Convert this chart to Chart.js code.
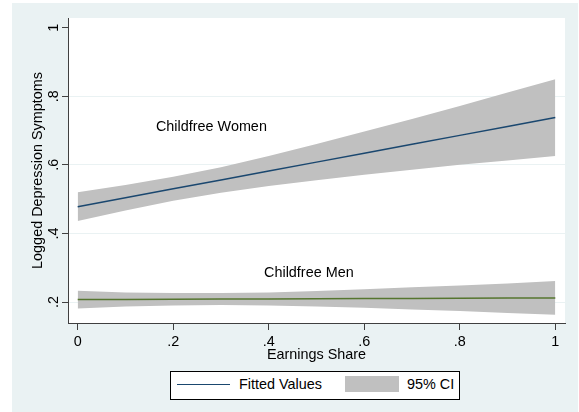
<!DOCTYPE html>
<html>
<head>
<meta charset="utf-8">
<script src="https://cdn.jsdelivr.net/npm/chart.js@4"></script>
<style>
  body { margin: 0; background: #fff; }
  #wrap { position: relative; width: 579px; height: 412px; font-family: "Liberation Sans", Arial, sans-serif; }
  #legend {
    position: absolute; left: 170px; top: 371px; width: 290px; height: 29px;
    box-sizing: border-box; border: 1px solid #000; background: #fff;
    font-size: 14.4px; line-height: 16px; color: #000;
  }
  #legend .line { position: absolute; left: 6px; top: 11.5px; width: 53px; height: 1.5px; background: #1a476f; }
  #legend .box { position: absolute; left: 174px; top: 4px; width: 54px; height: 16px; background: #c0c0c0; }
  #legend .txt { position: absolute; top: 4.3px; white-space: nowrap; }
</style>
</head>
<body>
<div id="wrap">
  <canvas id="myChart" width="579" height="412"></canvas>
  <div id="legend">
    <span class="line"></span><span class="txt" style="left:68px">Fitted Values</span>
    <span class="box"></span><span class="txt" style="left:236px">95% CI</span>
  </div>
</div>
<script>
// earnings share grid and fitted values with 95% bands
const shareX = [0, 0.1, 0.2, 0.3, 0.4, 0.5, 0.6, 0.7, 0.8, 0.9, 1];
const womenFit = [0.478, 0.504, 0.530, 0.556, 0.582, 0.608, 0.634, 0.660, 0.686, 0.712, 0.738];
const womenHi = [0.520, 0.541, 0.565, 0.593, 0.626, 0.661, 0.697, 0.734, 0.772, 0.811, 0.850];
const womenLo = [0.436, 0.467, 0.495, 0.519, 0.538, 0.555, 0.571, 0.586, 0.600, 0.613, 0.626];
const menFit = [0.207, 0.2075, 0.208, 0.2085, 0.209, 0.2095, 0.210, 0.2105, 0.211, 0.2115, 0.212];
const menHi = [0.233, 0.228, 0.226, 0.226, 0.228, 0.232, 0.237, 0.243, 0.248, 0.254, 0.261];
const menLo = [0.181, 0.187, 0.190, 0.191, 0.190, 0.187, 0.183, 0.178, 0.174, 0.168, 0.163];

const xTicks = [0, 0.2, 0.4, 0.6, 0.8, 1];
const xTickLabels = ['0', '.2', '.4', '.6', '.8', '1'];
const yTicks = [0.2, 0.4, 0.6, 0.8, 1];
const yTickLabels = ['.2', '.4', '.6', '.8', '1'];

const groupLabels = ['Childfree Women', 'Childfree Men'];
const groupLabelX = [0.28, 0.484];
const groupLabelY = [0.715, 0.289];

const FONT = '"Liberation Sans", Arial, sans-serif';
Chart.defaults.font.family = FONT;

const pts = ys => shareX.map((x, i) => ({ x: x, y: ys[i] }));

const bgPlugin = {
  id: 'bg',
  beforeDraw(chart) {
    const { ctx, chartArea: a } = chart;
    ctx.save();
    ctx.fillStyle = '#eaf2f3';
    ctx.fillRect(12, 3, 566, 409);
    ctx.fillStyle = '#fff';
    ctx.fillRect(a.left, a.top, a.right - a.left, a.bottom - a.top);
    ctx.restore();
  }
};

// rotated y labels, y title and the group captions
const textPlugin = {
  id: 'texts',
  afterDraw(chart) {
    const { ctx, chartArea: a } = chart;
    const ys = chart.scales.y, xs = chart.scales.x;
    ctx.save();
    ctx.fillStyle = '#000';
    ctx.font = '14.4px ' + FONT;
    ctx.textAlign = 'center';
    ctx.textBaseline = 'alphabetic';
    yTicks.forEach((v, i) => {
      ctx.save();
      ctx.translate(58, ys.getPixelForValue(v));
      ctx.rotate(-Math.PI / 2);
      ctx.fillText(yTickLabels[i], 0, 0);
      ctx.restore();
    });
    ctx.save();
    ctx.translate(41.7, (a.top + a.bottom) / 2);
    ctx.rotate(-Math.PI / 2);
    ctx.fillText('Logged Depression Symptoms', 0, 0);
    ctx.restore();
    groupLabels.forEach((t, i) => {
      ctx.fillText(t, xs.getPixelForValue(groupLabelX[i]), ys.getPixelForValue(groupLabelY[i]) + 5.2);
    });
    ctx.restore();
  }
};

const ctx = document.getElementById('myChart').getContext('2d');
new Chart(ctx, {
  type: 'line',
  data: {
    datasets: [
      { data: pts(womenFit), borderColor: '#1a476f', borderWidth: 1.5, pointRadius: 0, fill: false, order: 0 },
      { data: pts(menFit), borderColor: '#55752f', borderWidth: 1.5, pointRadius: 0, fill: false, order: 0 },
      { data: pts(womenHi), borderWidth: 0, borderColor: 'rgba(0,0,0,0)', backgroundColor: '#c0c0c0', pointRadius: 0, fill: '+1', order: 1 },
      { data: pts(womenLo), borderWidth: 0, borderColor: 'rgba(0,0,0,0)', pointRadius: 0, fill: false, order: 1 },
      { data: pts(menHi), borderWidth: 0, borderColor: 'rgba(0,0,0,0)', backgroundColor: '#c0c0c0', pointRadius: 0, fill: '+1', order: 1 },
      { data: pts(menLo), borderWidth: 0, borderColor: 'rgba(0,0,0,0)', pointRadius: 0, fill: false, order: 1 }
    ]
  },
  options: {
    responsive: false,
    animation: false,
    devicePixelRatio: 1,
    layout: { padding: { top: 18, right: 14, left: 0, bottom: 0 } },
    elements: { line: { tension: 0 } },
    scales: {
      x: {
        type: 'linear',
        min: -0.0203,
        max: 1.0203,
        afterBuildTicks: s => { s.ticks = xTicks.map(v => ({ value: v })); },
        afterFit: s => { s.height = 89; },
        ticks: {
          callback: (v, i) => xTickLabels[i],
          font: { size: 14.4 },
          color: '#000',
          padding: 3,
          maxRotation: 0
        },
        grid: { drawOnChartArea: false, tickLength: 7, tickColor: '#404040' },
        border: { color: '#404040', width: 1 },
        title: {
          display: true,
          text: 'Earnings Share',
          color: '#000',
          font: { size: 14.4 },
          padding: { top: 0, bottom: 48.4 }
        }
      },
      y: {
        type: 'linear',
        min: 0.1388,
        max: 1.0283,
        afterBuildTicks: s => { s.ticks = yTicks.map(v => ({ value: v })); },
        afterFit: s => { s.width = 68; },
        ticks: { display: false },
        grid: {
          color: c => (c.tick && c.tick.value >= 1 ? 'rgba(0,0,0,0)' : '#eaf2f3'),
          tickLength: 6,
          tickColor: '#404040'
        },
        border: { color: '#404040', width: 1 }
      }
    },
    plugins: {
      legend: { display: false },
      tooltip: { enabled: false }
    }
  },
  plugins: [bgPlugin, textPlugin]
});
</script>
</body>
</html>
